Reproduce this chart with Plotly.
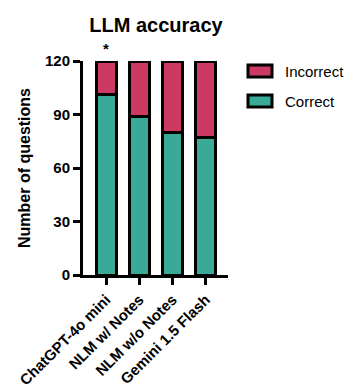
import plotly.graph_objects as go

categories = ["ChatGPT-4o mini", "NLM w/ Notes", "NLM w/o Notes", "Gemini 1.5 Flash"]
correct = [101, 89, 80, 77]
incorrect = [19, 31, 40, 43]
y_ticks = [0, 30, 60, 90, 120]

PINK = "#CC3A64"
TEAL = "#3AAA98"
FONT = "Arial, Liberation Sans, sans-serif"

# page body has an 8px default margin; figure is sized to fit the window
OFF = 8
W, H = 353 - OFF, 390 - OFF
L, R, T, B = 83 - OFF, 125, 61 - OFF, 115
PW, PH = W - L - R, H - T - B

fig = go.Figure()
fig.add_trace(go.Bar(x=categories, y=correct, name="Correct", marker=dict(color=TEAL, line=dict(color="black", width=3)), width=0.6))
fig.add_trace(go.Bar(x=categories, y=incorrect, name="Incorrect", marker=dict(color=PINK, line=dict(color="black", width=3)), width=0.6))

fig.update_layout(
    barmode="stack",
    width=W, height=H,
    margin=dict(l=L, r=R, t=T, b=B, autoexpand=False),
    paper_bgcolor="white", plot_bgcolor="white",
    showlegend=False,
    font=dict(family=FONT, color="black"),
    title=dict(text="<b>LLM accuracy</b>", x=(156 - OFF) / W, xanchor="center", y=1 - (25 - OFF) / H, yanchor="middle",
               font=dict(size=20, family=FONT, color="black")),
)
fig.update_yaxes(range=[0, 120], tickvals=y_ticks, ticktext=[f"<b>{v}</b>" for v in y_ticks],
                 showline=True, linecolor="black", linewidth=3, ticks="outside", ticklen=7, tickwidth=3,
                 tickcolor="black", showgrid=False, zeroline=False, tickfont=dict(size=15), automargin=False,
                 title=dict(text="<b>Number of questions</b>", font=dict(size=16), standoff=11))
fig.update_xaxes(range=[-0.7, 3.67], tickvals=categories, ticktext=[f"<b>{c}</b>" for c in categories],
                 showline=True, linecolor="black", linewidth=3, ticks="outside", ticklen=7, tickwidth=3,
                 tickcolor="black", showgrid=False, tickangle=-45, tickfont=dict(size=15), automargin=False)

# asterisk above first bar
fig.add_annotation(x=categories[0], y=120, text="<b>*</b>", showarrow=False, yanchor="bottom", yshift=2,
                   font=dict(size=15, color="black"))

# custom legend (page coordinates converted to paper)
def px_x(x):
    return (x - OFF - L) / PW

def px_y(y):
    return (H - B - (y - OFF)) / PH

legend_items = [("Incorrect", PINK, 71), ("Correct", TEAL, 101)]
for label, color, yc in legend_items:
    fig.add_shape(type="rect", xref="paper", yref="paper",
                  x0=px_x(248), x1=px_x(272), y0=px_y(yc + 6), y1=px_y(yc - 6),
                  fillcolor=color, line=dict(color="black", width=3))
    fig.add_annotation(xref="paper", yref="paper", x=px_x(283), y=px_y(yc),
                       text=label, showarrow=False, xanchor="left", yanchor="middle",
                       font=dict(size=15, color="black"))

fig.write_html("out.html")
